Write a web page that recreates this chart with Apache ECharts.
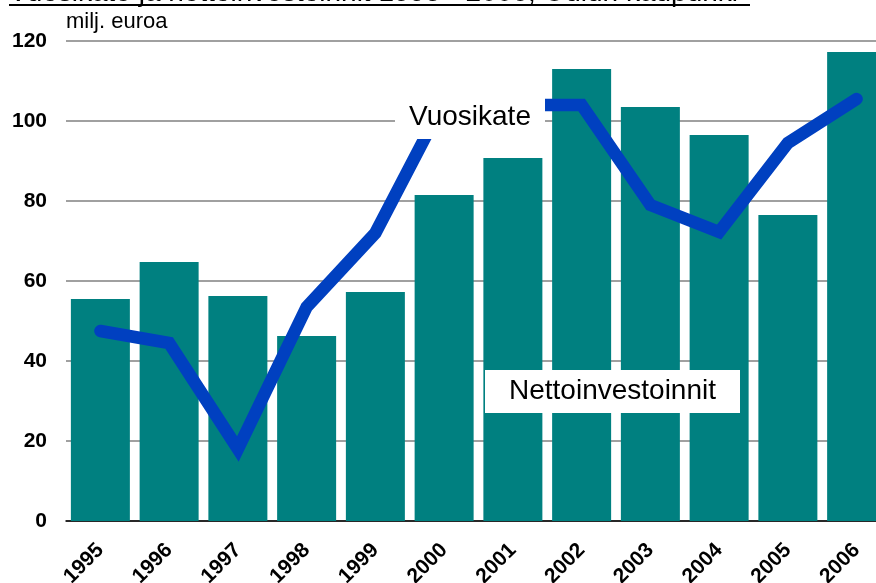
<!DOCTYPE html>
<html>
<head>
<meta charset="utf-8">
<title>Vuosikate ja nettoinvestoinnit</title>
<script src="https://cdn.jsdelivr.net/npm/echarts@6/dist/echarts.min.js"></script>
<style>
  html, body { margin: 0; padding: 0; background: #fff; }
  #main { width: 876px; height: 583px; }
</style>
</head>
<body>
<div id="main"></div>
<script>
// data (milj. euroa)
const years = ["1995", "1996", "1997", "1998", "1999", "2000", "2001", "2002", "2003", "2004", "2005", "2006"];
const nettoinvestoinnit = [55.5, 64.75, 56.25, 46.25, 57.25, 81.5, 90.75, 113, 103.5, 96.5, 76.5, 117.25];
const vuosikate = [47.5, 44.5, 18, 53.5, 72, 105, 104, 104, 79, 72.25, 94.5, 105.5];
const yTicks = [0, 20, 40, 60, 80, 100, 120];

const FONT = "Liberation Sans, Arial, sans-serif";

// label box (white rect + centered text)
function labelBox(text, x, y, w, h, cy) {
  return {
    type: "group",
    z: 100,
    children: [
      { type: "rect", shape: { x: x, y: y, width: w, height: h }, style: { fill: "#fff" }, z: 100 },
      {
        type: "text",
        z: 101,
        style: {
          text: text,
          x: x + w / 2,
          y: cy,
          align: "center",
          verticalAlign: "middle",
          font: "28px " + FONT,
          fill: "#000"
        }
      }
    ]
  };
}

function buildOption() {
  return {
    animation: false,
    textStyle: { fontFamily: FONT },
    // plot runs past the right edge (cropped like the original)
    grid: { left: 66, top: 41, width: 825, height: 480, outerBoundsMode: "none", containLabel: false },
    xAxis: {
      type: "category",
      data: years,
      axisLine: { lineStyle: { color: "#000", width: 1.5 } },
      axisTick: { show: false },
      axisLabel: {
        rotate: 45,
        margin: 26,
        color: "#000",
        fontSize: 21,
        fontWeight: "bold",
        interval: 0
      }
    },
    yAxis: {
      type: "value",
      min: yTicks[0],
      max: yTicks[yTicks.length - 1],
      interval: 20,
      name: "milj. euroa",
      nameLocation: "end",
      nameGap: 19,
      nameTextStyle: { color: "#000", fontSize: 22, align: "left", verticalAlign: "middle" },
      axisLine: { show: false },
      axisTick: { show: false },
      axisLabel: { color: "#000", fontSize: 21, fontWeight: "bold", margin: 19 },
      splitLine: { lineStyle: { color: "#808080", width: 1.5 } }
    },
    series: [
      {
        name: "Nettoinvestoinnit",
        type: "bar",
        data: nettoinvestoinnit,
        barWidth: 59,
        itemStyle: { color: "#008080" },
        z: 2
      },
      {
        name: "Vuosikate",
        type: "line",
        data: vuosikate,
        symbol: "none",
        lineStyle: { color: "#0040c0", width: 12.5, cap: "round", join: "miter" },
        z: 3
      }
    ],
    graphic: [
      // cropped, underlined title
      {
        type: "text",
        z: 100,
        style: {
          text: "Vuosikate ja nettoinvestoinnit 1995 - 2006, Oulun kaupunki",
          x: 9,
          y: -7,
          verticalAlign: "middle",
          font: "28px " + FONT,
          fill: "#000"
        }
      },
      { type: "rect", z: 100, shape: { x: 9, y: 4, width: 741, height: 2 }, style: { fill: "#000" } },
      labelBox("Vuosikate", 395, 86, 150, 53, 117),
      labelBox("Nettoinvestoinnit", 485, 370, 255, 43, 391)
    ]
  };
}

const chart = echarts.init(document.getElementById("main"));
chart.setOption(buildOption());
</script>
</body>
</html>
